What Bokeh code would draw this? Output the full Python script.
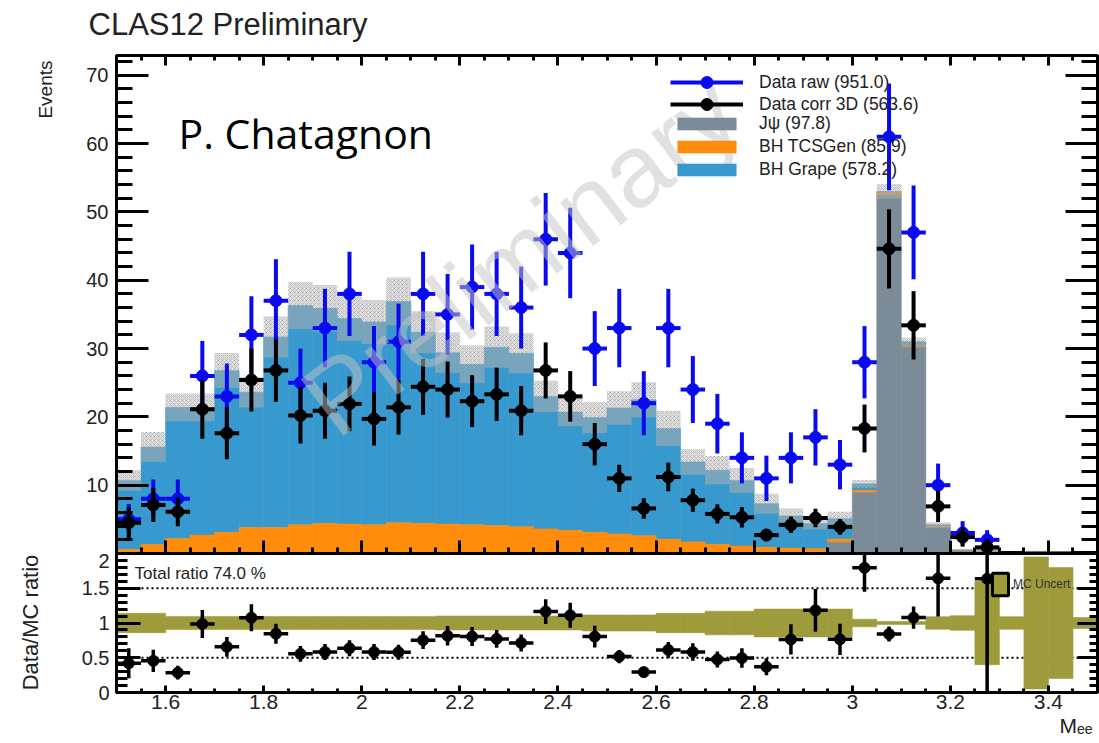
import numpy as np
from bokeh.plotting import figure
from bokeh.layouts import column, row
from bokeh.models import (Range1d, LinearAxis, FixedTicker, NumeralTickFormatter,
                          Label, Legend, LegendItem, Span, Title, ColumnDataSource)
from bokeh.embed import file_html
from bokeh.resources import INLINE

# ---------------------------------------------------------------- data
# invariant mass binning M_ee (GeV): 40 bins of 0.05 from 1.5 to 3.5
m_min, m_max, bin_width = 1.50, 3.50, 0.05

raw_counts = [5, 8, 8, 26, 23, 32, 37, 25, 33, 38,
              28, 31, 38, 35, 39, 38, 36, 46, 44, 30,
              33, 22, 33, 24, 19, 14, 11, 14, 17, 13,
              28, 61, 47, 10, 3, 2, 0, 0, 0, 0]
raw_err = [2.24, 2.83, 2.83, 5.10, 4.80, 5.66, 6.08, 5.00, 5.74, 6.16,
           5.29, 5.57, 6.16, 5.92, 6.24, 6.16, 6.00, 6.78, 6.63, 5.48,
           5.74, 4.69, 5.74, 4.90, 4.36, 3.74, 3.32, 3.74, 4.12, 3.61,
           5.29, 7.81, 6.86, 3.16, 1.73, 1.41, 0, 0, 0, 0]

corr_counts = [4.5, 7.1, 6.1, 21.1, 17.6, 25.4, 26.8, 20.2, 20.9, 21.9,
               19.7, 21.4, 24.4, 24.0, 22.3, 23.3, 20.9, 26.8, 23.0, 16.0,
               11.0, 6.6, 11.2, 7.8, 5.8, 5.3, 2.7, 4.2, 5.2, 3.9,
               18.3, 44.6, 33.4, 6.9, 2.4, 0.9, 0, 0, 0, 0]
corr_err = [2.3, 2.5, 2.1, 4.3, 3.8, 4.6, 4.6, 4.1, 4.1, 4.0,
            3.9, 4.0, 4.1, 4.1, 3.8, 3.9, 3.6, 4.1, 3.7, 3.1,
            2.0, 1.5, 2.1, 1.7, 1.4, 1.5, 0.9, 1.2, 1.35, 1.15,
            3.5, 5.8, 5.0, 2.3, 1.4, 1.2, 0, 0, 0, 0]

# simulated contributions (stacked: J/psi at the bottom, then TCSGen, then Grape)
mc_jpsi = [0, 0, 0, 0, 0, 0, 0, 0, 0, 0,
           0, 0, 0, 0, 0, 0, 0, 0, 0, 0,
           0, 0, 0, 0, 0, 0, 0, 0, 0, 1.6,
           8.9, 52.5, 30.2, 3.8, 0.4, 0.4, 0, 0, 0, 0]
mc_bh_tcsgen = [0.6, 1.3, 2.2, 2.7, 3.1, 3.8, 3.8, 4.2, 4.4, 4.3,
                4.2, 4.5, 4.4, 4.3, 4.2, 4.1, 3.9, 3.6, 3.4, 3.1,
                2.85, 2.6, 2.1, 1.7, 1.35, 1.1, 0.9, 0.8, 0.7, 0.5,
                0.35, 0.3, 0.2, 0.15, 0.1, 0.05, 0.05, 0, 0, 0]
mc_bh_grape = [10.1, 14.3, 19.2, 18.7, 23.7, 19.8, 27.9, 32.1, 31.5, 30.1,
               29.7, 32.4, 28.0, 25.1, 23.5, 26.1, 25.4, 19.4, 17.3, 16.8,
               18.45, 19.9, 16.2, 11.7, 10.85, 9.6, 6.4, 4.7, 3.7, 3.0,
               0.95, 0.2, 0.6, 0.25, 0.0, 0.1, 0.05, 0.2, 0.2, 0.05]
# relative statistical uncertainty of the summed simulation
mc_rel_unc = [0.14, 0.14, 0.095, 0.095, 0.095, 0.095, 0.095, 0.095, 0.095, 0.095,
              0.095, 0.095, 0.095, 0.10, 0.10, 0.10, 0.10, 0.10, 0.10, 0.115,
              0.115, 0.115, 0.14, 0.14, 0.17, 0.17, 0.20, 0.20, 0.20, 0.20,
              0.055, 0.02, 0.02, 0.09, 0.105, 0.6, 0.09, 0.95, 0.8, 0.08]

x_ticks = [1.6, 1.8, 2.0, 2.2, 2.4, 2.6, 2.8, 3.0, 3.2, 3.4]
main_y_ticks = [10, 20, 30, 40, 50, 60, 70]
ratio_y_ticks = [0, 0.5, 1, 1.5, 2]

# ---------------------------------------------------------------- derived arrays
edges = np.round(np.arange(m_min, m_max + bin_width / 2, bin_width), 3)
lo, hi = edges[:-1], edges[1:]
cx = (lo + hi) / 2

raw = np.array(raw_counts, float)
rerr = np.array(raw_err, float)
corr = np.array(corr_counts, float)
cerr = np.array(corr_err, float)
jp = np.array(mc_jpsi, float)
tg = np.array(mc_bh_tcsgen, float)
gr = np.array(mc_bh_grape, float)
rel = np.array(mc_rel_unc, float)

tcs_top = jp + tg
mc = jp + tg + gr
has_data = raw > 0
ratio = np.where(has_data, corr / mc, np.nan)
ratio_err = np.where(has_data, cerr / mc, np.nan)

# ---------------------------------------------------------------- layout geometry
W, H = 1099, 743
TOP_STRIP, LEFT_STRIP = 50, 60          # strips that carry the title and y-axis titles
FRAME_L, FRAME_R = 116, 1097
MAIN_TOP, SPLIT, RATIO_BOT = 55, 553, 692
MAIN_YMAX, RATIO_YMAX = 72.9, 2.0

XS = (FRAME_R - FRAME_L) / (m_max - m_min)
MS = (SPLIT - MAIN_TOP) / MAIN_YMAX
RS = (RATIO_BOT - SPLIT) / RATIO_YMAX


def xd(px):
    return m_min + (px - FRAME_L) / XS


def yd_main(py):
    return (SPLIT - py) / MS


def yd_ratio(py):
    return (RATIO_BOT - py) / RS


FONT = "Liberation Sans"
TXT = "#222222"
BLUE = "#0a0af0"
C_GRAPE = "#3799cd"
C_TCS = "#ff8c0a"
C_JPSI = "#7b8c98"
OLIVE = "#9d9b3b"

x_range = Range1d(m_min, m_max)
x_minor = [v for v in np.round(np.arange(m_min, m_max + 1e-9, bin_width), 3) if v not in x_ticks]


def add_axis(fig, side, ticks, minor, tick_in, minor_in, labels=False,
             font_size="20px", standoff=0):
    ax = LinearAxis(ticker=FixedTicker(ticks=ticks, minor_ticks=minor),
                    formatter=NumeralTickFormatter(format="0.[0]"),
                    major_tick_in=tick_in, major_tick_out=0,
                    minor_tick_in=minor_in, minor_tick_out=0,
                    major_tick_line_width=3, minor_tick_line_width=3,
                    axis_line_width=3, axis_line_color="black",
                    major_label_standoff=standoff)
    if labels:
        ax.major_label_text_font = FONT
        ax.major_label_text_font_size = font_size
        ax.major_label_text_color = TXT
    else:
        ax.major_label_text_font_size = "0px"
        ax.major_label_text_alpha = 0
    fig.add_layout(ax, side)
    return ax


def text_strip(width, height):
    """A bare figure whose frame covers it entirely, used only to carry text."""
    f = figure(width=width, height=height, x_range=Range1d(0, width),
               y_range=Range1d(0, height), x_axis_type=None, y_axis_type=None,
               output_backend="svg", toolbar_location=None,
               min_border=0, min_border_left=0, min_border_right=0,
               min_border_top=0, min_border_bottom=0)
    f.outline_line_color = None
    f.background_fill_color = "white"
    f.border_fill_color = "white"
    return f


# ---------------------------------------------------------------- title strip
top = text_strip(W, TOP_STRIP)
top.add_layout(Label(x=88, y=TOP_STRIP - 23.5, text="CLAS12 Preliminary",
                     text_baseline="middle", text_font=FONT, text_font_size="31px",
                     text_color=TXT))

# ---------------------------------------------------------------- y-title strip
side = text_strip(LEFT_STRIP, H - TOP_STRIP)
side.add_layout(Label(x=45, y=H - 60, text="Events", angle=np.pi / 2,
                      text_align="right", text_baseline="middle",
                      text_font=FONT, text_font_size="19px", text_color=TXT))
side.add_layout(Label(x=30, y=H - 622, text="Data/MC ratio", angle=np.pi / 2,
                      text_align="center", text_baseline="middle",
                      text_font=FONT, text_font_size="22px", text_color=TXT))

# ---------------------------------------------------------------- upper panel
PW = W - LEFT_STRIP
p = figure(width=PW, height=SPLIT - TOP_STRIP, x_range=x_range, y_range=Range1d(0, MAIN_YMAX),
           x_axis_type=None, y_axis_type=None, output_backend="svg",
           toolbar_location=None, min_border_left=FRAME_L - LEFT_STRIP,
           min_border_right=W - FRAME_R, min_border_top=MAIN_TOP - TOP_STRIP,
           min_border_bottom=0)
p.outline_line_color = "black"
p.outline_line_width = 3
p.background_fill_color = "white"
p.border_fill_color = "white"

main_minor = [v for v in range(2, 73, 2) if v not in main_y_ticks]
add_axis(p, "left", main_y_ticks, main_minor, 32, 16, labels=True, standoff=8)
add_axis(p, "right", main_y_ticks, main_minor, 32, 16)
add_axis(p, "above", x_ticks, x_minor, 10, 5)
add_axis(p, "below", x_ticks, x_minor, 13, 6)

r_grape = p.quad(left=lo, right=hi, bottom=tcs_top, top=mc,
                 fill_color=C_GRAPE, line_color=C_GRAPE, line_width=0.6)
r_tcs = p.quad(left=lo, right=hi, bottom=jp, top=tcs_top,
               fill_color=C_TCS, line_color=C_TCS, line_width=0.6)
r_jpsi = p.quad(left=lo, right=hi, bottom=0, top=jp,
                fill_color=C_JPSI, line_color=C_JPSI, line_width=0.6)
p.quad(left=lo, right=hi, bottom=mc * (1 - rel), top=mc * (1 + rel),
       fill_color="#bcbcbc", fill_alpha=0.45, line_color=None,
       hatch_pattern="x", hatch_color="#8f8f8f", hatch_alpha=0.6,
       hatch_scale=4, hatch_weight=0.7)

m = has_data
b_v = p.segment(x0=cx[m], y0=(raw - rerr)[m], x1=cx[m], y1=(raw + rerr)[m],
                line_color=BLUE, line_width=4)
b_h = p.segment(x0=lo[m], y0=raw[m], x1=hi[m], y1=raw[m], line_color=BLUE, line_width=4)
b_p = p.scatter(cx[m], raw[m], size=12, marker="circle", color=BLUE)

k_v = p.segment(x0=cx[m], y0=(corr - cerr)[m], x1=cx[m], y1=(corr + cerr)[m],
                line_color="black", line_width=4)
k_h = p.segment(x0=lo[m], y0=corr[m], x1=hi[m], y1=corr[m], line_color="black", line_width=4)
k_p = p.scatter(cx[m], corr[m], size=12, marker="circle", color="black")

legend_style = dict(padding=0, margin=0, label_text_font=FONT,
                    label_text_font_size="17.5px", label_text_color=TXT,
                    border_line_color=None, background_fill_alpha=0,
                    glyph_width=73, label_standoff=16)
LEG_X = 670 - FRAME_L
# data entries: one legend per row, each with a tall glyph box so the marker keeps its size
for item, row_center in ((LegendItem(label=f"Data raw ({raw.sum():.1f})", renderers=[b_h, b_p]), 82),
                         (LegendItem(label=f"Data corr 3D ({corr.sum():.1f})", renderers=[k_h, k_p]), 104)):
    p.add_layout(Legend(items=[item], location=(LEG_X, SPLIT - (row_center + 15)),
                        glyph_height=30, label_height=30, spacing=0, **legend_style))
# simulation entries
p.add_layout(Legend(items=[
    LegendItem(label=f"J\u03c8 ({jp.sum():.1f})", renderers=[r_jpsi]),
    LegendItem(label=f"BH TCSGen ({tg.sum():.1f})", renderers=[r_tcs]),
    LegendItem(label=f"BH Grape ({gr.sum():.1f})", renderers=[r_grape]),
], location=(LEG_X, SPLIT - 180), glyph_height=15, label_height=20,
    spacing=2, **legend_style))

p.add_layout(Label(x=xd(178), y=yd_main(160), text="P. Chatagnon",
                   text_font="Open Sans", text_font_size="41px", text_color="black"))
p.add_layout(Label(x=xd(520), y=yd_main(256), text="Preliminary", angle=0.65,
                   text_align="center", text_baseline="middle",
                   text_font=FONT, text_font_size="103px",
                   text_color="#c4c4c4", text_alpha=0.5))

# ---------------------------------------------------------------- ratio panel
p2 = figure(width=PW, height=H - SPLIT, x_range=x_range, y_range=Range1d(0, RATIO_YMAX),
            x_axis_type=None, y_axis_type=None, output_backend="svg",
            toolbar_location=None, min_border_left=FRAME_L - LEFT_STRIP,
            min_border_right=W - FRAME_R, min_border_top=0,
            min_border_bottom=H - RATIO_BOT)
p2.outline_line_color = "black"
p2.outline_line_width = 3
p2.background_fill_color = "white"
p2.border_fill_color = "white"

ratio_minor = [v for v in np.round(np.arange(0.1, 2.0, 0.1), 2) if v not in ratio_y_ticks]
add_axis(p2, "left", ratio_y_ticks, ratio_minor, 24, 11, labels=True, standoff=7)
add_axis(p2, "right", ratio_y_ticks, ratio_minor, 20, 8)
add_axis(p2, "below", x_ticks, x_minor, 7, 4, labels=True, font_size="21px", standoff=2)

p2.add_layout(Title(text="M\u2091\u2091", align="right", vertical_align="bottom",
                    standoff=0, offset=5, text_font=FONT, text_font_size="21px",
                    text_font_style="normal", text_color=TXT), "below")

for lvl in (0.5, 1.5):
    p2.add_layout(Span(location=lvl, dimension="width", line_color="black",
                       line_width=2, line_dash="2 3", level="underlay"))

p2.quad(left=lo, right=hi, bottom=1 - rel, top=1 + rel,
        fill_color=OLIVE, line_color=OLIVE, line_width=0.6)

p2.segment(x0=cx[m], y0=(ratio - ratio_err)[m], x1=cx[m], y1=(ratio + ratio_err)[m],
           line_color="black", line_width=3.5)
p2.segment(x0=lo[m], y0=ratio[m], x1=hi[m], y1=ratio[m], line_color="black", line_width=3.5)
p2.scatter(cx[m], ratio[m], size=11, marker="circle", color="black")

# legend key for the uncertainty band (a swatch with no drawn geometry)
key_src = ColumnDataSource(dict(l=[np.nan], r=[np.nan], b=[np.nan], t=[np.nan]))
unc_key = p2.quad(left="l", right="r", bottom="b", top="t", source=key_src,
                  fill_color=OLIVE, line_color="black", line_width=3)
p2.add_layout(Legend(items=[LegendItem(label="MC Uncert", renderers=[unc_key])],
                     location=(990 - FRAME_L, RATIO_BOT - 598), glyph_width=20,
                     glyph_height=28, label_height=28, label_standoff=3, spacing=0,
                     padding=0, margin=0, label_text_font=FONT,
                     label_text_font_size="12px", label_text_color="#333333",
                     border_line_color=None, background_fill_alpha=0))

total_ratio = 100 * corr.sum() / mc.sum()
p2.add_layout(Label(x=xd(134), y=yd_ratio(573), text=f"Total ratio {total_ratio:.1f} %",
                    text_baseline="middle", text_font=FONT, text_font_size="17px",
                    text_color=TXT))

layout = column(top, row(side, column(p, p2, spacing=0), spacing=0), spacing=0)
with open("out.html", "w", encoding="utf-8") as f:
    f.write(file_html(layout, INLINE))
